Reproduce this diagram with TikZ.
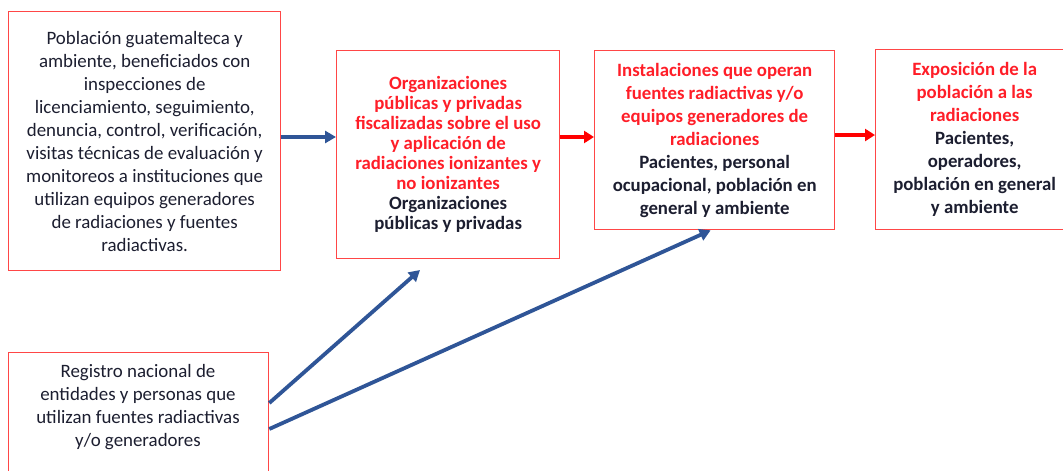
\documentclass[tikz,border=0pt]{standalone}
\usepackage{fontspec}
\setmainfont{Carlito}
\usetikzlibrary{arrows.meta}
\definecolor{boxred}{RGB}{255,70,70}
\definecolor{txtred}{RGB}{255,30,40}
\definecolor{txtdark}{RGB}{28,30,48}
\definecolor{arrowblue}{RGB}{47,85,151}

\begin{document}
\begin{tikzpicture}[x=1pt,y=-1pt,
    box/.style={draw=boxred,line width=1.3pt,anchor=north west,align=flush center,
      inner sep=0pt,text width=#1,text=txtdark,font=\fontsize{18.9}{23}\selectfont},
    box/.default=258pt,
    bluearrow/.style={draw=arrowblue,line width=3.8pt,-{Triangle[length=11pt,width=12pt]}},
    redarrow/.style={draw=red,line width=4.2pt,-{Triangle[length=10pt,width=12pt]}}]
    \useasboundingbox[fill=white] (0,0) rectangle (1063,471);

    \node[box,minimum width=272pt,minimum height=259pt] (poblacion) at (8,11)
      {Población guatemalteca y\\ ambiente, beneficiados con\\ inspecciones de\\
       licenciamiento, seguimiento,\\ denuncia, control, verificación,\\
       visitas técnicas de evaluación y\\ monitoreos a instituciones que\\
       utilizan equipos generadores\\ de radiaciones y fuentes\\ radiactivas.};
    \node[box=220pt,minimum width=223pt,minimum height=208pt,
          font=\bfseries\fontsize{18.8}{20}\selectfont] (organiz) at (336,50)
      {\color{txtred}Organizaciones\\ públicas y privadas\\ fiscalizadas sobre el uso\\
       y aplicación de\\ radiaciones ionizantes y\\ no ionizantes\\
       \color{txtdark}Organizaciones\\ públicas y privadas};
    \node[box=236pt,minimum width=240pt,minimum height=179pt,
          font=\bfseries\fontsize{18.8}{23}\selectfont] (instal) at (594,50)
      {\color{txtred}Instalaciones que operan\\ fuentes radiactivas y/o\\
       equipos generadores de\\ radiaciones\\
       \color{txtdark}Pacientes, personal\\ ocupacional, población en\\ general y ambiente};
    \node[box=194pt,minimum width=198pt,minimum height=180pt,
          font=\bfseries\fontsize{18.8}{23}\selectfont] (exposic) at (875,49)
      {\color{txtred}Exposición de la\\ población a las\\ radiaciones\\
       \color{txtdark}Pacientes,\\ operadores,\\ población en general\\ y ambiente};
    \node[box,minimum width=260pt,minimum height=140pt] (registro) at (8,352) {};
    \node[align=center,inner sep=0pt,text=txtdark,font=\fontsize{18.9}{23}\selectfont]
      (registrotxt) at (138,407.5)
      {Registro nacional de\\ entidades y personas que\\ utilizan fuentes radiactivas\\ y/o generadores};

    % flechas
    \coordinate (row1) at (0,137);
    \coordinate (row2) at (0,135);
    \coordinate (tip1) at (420,270);
    \draw[bluearrow] (poblacion.east |- row1) -- (organiz.west |- row1);
    \draw[redarrow] (organiz.east |- row1) -- (instal.west |- row1);
    \draw[redarrow] (instal.east |- row2) -- (exposic.west |- row2);
    \draw[bluearrow] ([yshift=-51pt]registro.north east) -- (tip1);
    \draw[bluearrow] ([yshift=-77pt]registro.north east) -- ([xshift=-4pt]instal.south);
\end{tikzpicture}
\end{document}
